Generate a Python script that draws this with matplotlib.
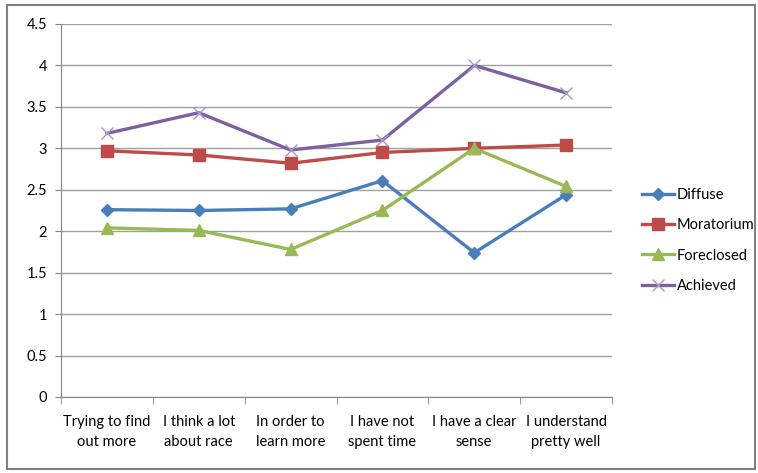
import matplotlib
matplotlib.use("Agg")
import matplotlib.pyplot as plt
from matplotlib.patches import Rectangle
import numpy as np

categories = ["Trying to find\nout more", "I think a lot\nabout race", "In order to\nlearn more",
              "I have not\nspent time", "I have a clear\nsense", "I understand\npretty well"]
diffuse = [2.26, 2.25, 2.27, 2.61, 1.74, 2.44]
moratorium = [2.97, 2.92, 2.82, 2.95, 3.00, 3.04]
foreclosed = [2.04, 2.01, 1.78, 2.25, 3.00, 2.54]
achieved = [3.18, 3.43, 2.98, 3.10, 4.00, 3.67]
yticks = [0, 0.5, 1, 1.5, 2, 2.5, 3, 3.5, 4, 4.5]

plt.rcParams['font.family'] = ['Lato', 'DejaVu Sans']
fig = plt.figure(figsize=(7.58, 4.73), dpi=100)
ax = fig.add_axes([61/758, 1-397/473, (612-61)/758, (397-24)/473])

x = np.arange(len(categories))
lw = 2.4
ax.plot(x, diffuse, color="#4A7EBB", lw=lw, marker="D", ms=6, label="Diffuse")
ax.plot(x, moratorium, color="#BE4B48", lw=lw, marker="s", ms=9, label="Moratorium")
ax.plot(x, foreclosed, color="#98B954", lw=lw, marker="^", ms=9, label="Foreclosed")
ax.plot(x, achieved, color="#7D60A0", lw=lw, marker="x", ms=9, mew=1.0, mec="#A898C8", label="Achieved")

ax.set_xlim(-0.5, 5.5)
ax.set_ylim(0, 4.5)
ax.set_yticks(yticks)
ax.set_yticklabels([f"{v:g}" for v in yticks], fontsize=10.5)
ax.set_xticks(x)
ax.set_xticklabels(categories, fontsize=10.5, linespacing=1.55)
ax.tick_params(axis='x', length=0, pad=13)
ax.set_xticks(np.arange(-0.5, 6, 1), minor=True)
ax.tick_params(axis='x', which='minor', length=5, color="#868686", direction='out')
ax.tick_params(axis='y', length=4, color="#868686", direction='out', pad=6)
ax.yaxis.grid(True, color="#A0A0A0", lw=1)
ax.set_axisbelow(True)
for s in ['top', 'right']:
    ax.spines[s].set_visible(False)
for s in ['left', 'bottom']:
    ax.spines[s].set_color("#868686")

leg = ax.legend(loc='center left', bbox_to_anchor=(1.03, 0.42), frameon=False, fontsize=10.5,
                handlelength=2.2, labelspacing=1.12, handletextpad=0.2)

fig.patches.append(Rectangle((7/758, 4/473), 748/758, 464/473, transform=fig.transFigure,
                             fill=False, ec="#808080", lw=1.5))
fig.savefig("out.png", dpi=100)
